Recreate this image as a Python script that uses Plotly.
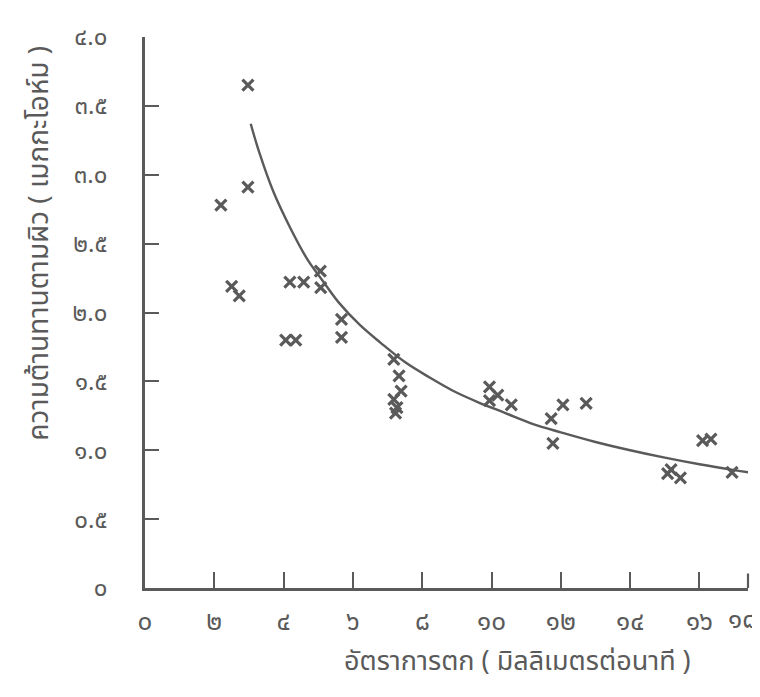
import plotly.graph_objects as go

# Measured points: rate of fall (mm/min) vs surface resistance (megaohm)
rate = [2.97, 2.97, 2.19, 2.50, 2.72, 4.18, 4.58, 5.06, 5.07, 4.06, 4.35,
        5.67, 5.67, 7.18, 7.33, 7.39, 7.18, 7.27, 7.23,
        9.94, 10.18, 9.94, 10.57, 11.72, 12.06, 12.73, 11.77,
        15.18, 15.08, 15.45, 16.09, 16.33, 16.94]
resist = [3.65, 2.91, 2.78, 2.19, 2.12, 2.22, 2.22, 2.30, 2.18, 1.80, 1.80,
          1.95, 1.82, 1.66, 1.54, 1.43, 1.37, 1.31, 1.27,
          1.46, 1.40, 1.36, 1.33, 1.23, 1.33, 1.34, 1.05,
          0.86, 0.83, 0.80, 1.07, 1.08, 0.84]

# Fitted curve
curve_x = [3.05, 3.3, 3.7, 4.2, 4.7, 5.1, 5.6, 6.2, 6.8, 7.5, 8.2, 8.9, 9.6,
           10.4, 11.2, 12.0, 13.0, 14.0, 15.0, 16.0, 17.0, 17.5]
curve_y = [3.37, 3.16, 2.88, 2.61, 2.38, 2.24, 2.07, 1.91, 1.78, 1.64, 1.53, 1.43, 1.35,
           1.27, 1.19, 1.13, 1.06, 1.00, 0.946, 0.898, 0.856, 0.837]

x_tick_vals = [0, 2, 4, 6, 8, 10, 12, 14, 16]
x_tick_text = ["๐", "๒", "๔", "๖", "๘", "๑๐", "๑๒", "๑๔", "๑๖"]
x_last_label = "๑๘"
y_tick_vals = [0, 0.5, 1.0, 1.5, 2.0, 2.5, 3.0, 3.5, 4.0]
y_tick_text = ["๐", "๐.๕", "๑.๐", "๑.๕", "๒.๐", "๒.๕", "๓.๐", "๓.๕", "๔.๐"]

x_title = "อัตราการตก ( มิลลิเมตรต่อนาที )"
y_title = "ความต้านทานตามผิว ( เมกกะโอห์ม )"

ink = "#5a5a5a"
font_family = "Noto Sans Thai, Noto Sans, DejaVu Sans, sans-serif"

fig = go.Figure()
fig.add_trace(go.Scatter(x=curve_x, y=curve_y, mode="lines",
                         line=dict(color=ink, width=2.4, shape="spline", smoothing=1.0),
                         cliponaxis=False, hoverinfo="skip", showlegend=False))
fig.add_trace(go.Scatter(x=rate, y=resist, mode="markers",
                         marker=dict(symbol="x-thin", size=11, line=dict(color=ink, width=3.2)),
                         cliponaxis=False, showlegend=False))

# page body has an 8px margin, so the figure is 8px smaller than the window
fig.update_layout(
    width=752, height=689,
    margin=dict(l=137, r=12, t=22, b=109),
    paper_bgcolor="white", plot_bgcolor="white",
    font=dict(family=font_family, color=ink, size=22),
)
fig.update_xaxes(range=[0, 17.4], tickvals=x_tick_vals, ticktext=x_tick_text,
                 ticks="inside", ticklen=16, tickwidth=2.2, tickcolor=ink,
                 showline=True, linewidth=2.6, linecolor=ink, showgrid=False,
                 zeroline=False, ticklabelstandoff=8, tickfont=dict(size=26))
fig.update_yaxes(range=[0, 4.0], tickvals=y_tick_vals, ticktext=y_tick_text,
                 ticks="inside", ticklen=14, tickwidth=2.2, tickcolor=ink,
                 showline=True, linewidth=2.6, linecolor=ink, showgrid=False,
                 zeroline=False, ticklabelstandoff=30, tickfont=dict(size=24))

# tick label 18 sits just beyond the axis end, at the page edge
fig.add_annotation(x=1, y=0, xref="paper", yref="y", text=x_last_label, showarrow=False,
                   xanchor="right", xshift=11, yshift=-32, font=dict(size=26, color=ink))
# right-end upturn of the axis
fig.add_annotation(x=1, y=0, xref="paper", yref="paper", ax=0, ay=-16,
                   axref="pixel", ayref="pixel", showarrow=True, arrowhead=0,
                   arrowwidth=2.2, arrowcolor=ink, text="")

fig.add_annotation(x=0.617, y=-0.134, xref="paper", yref="paper",
                   text=x_title, showarrow=False,
                   xanchor="center", yanchor="middle", font=dict(size=27, color=ink))
fig.add_annotation(x=-0.174, y=0.625, xref="paper", yref="paper",
                   text=y_title, showarrow=False,
                   textangle=-90, xanchor="center", yanchor="middle",
                   font=dict(size=28, color=ink))

fig.write_html("out.html")
